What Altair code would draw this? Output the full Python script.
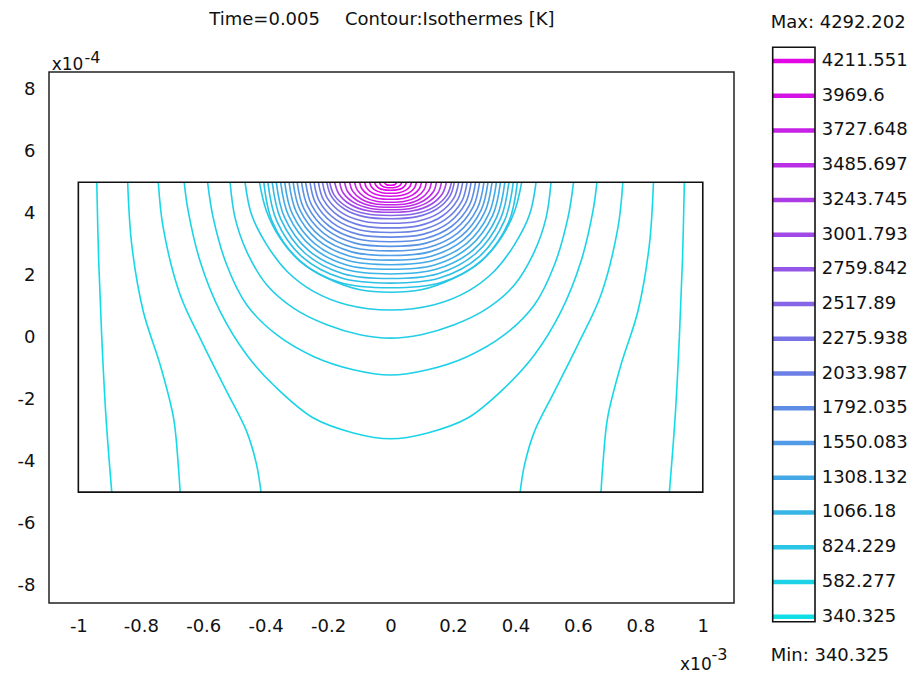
import altair as alt
import pandas as pd

# ---------------- data ----------------
# axis ticks (x in 1e-3 m, y in 1e-4 m)
x_ticks = [-1, -0.8, -0.6, -0.4, -0.2, 0, 0.2, 0.4, 0.6, 0.8, 1]
y_ticks = [-8, -6, -4, -2, 0, 2, 4, 6, 8]

# geometry rectangle (domain of the model)
geom_x = [-1.0, 1.0]
geom_y = [-5.0, 5.0]

# isotherms that run from the top edge to the bottom edge (left half; field is symmetric)
side_levels = [380, 430, 480]
side_halves = [
    [(-0.941, 5.0), (-0.935, 2.5), (-0.925, 0.0), (-0.912, -2.5), (-0.893, -5.0)],
    [(-0.842, 5.0), (-0.829, 2.99), (-0.792, 0.83), (-0.738, -0.89), (-0.695, -2.61),
     (-0.680, -4.12), (-0.674, -5.0)],
    [(-0.744, 5.0), (-0.728, 3.52), (-0.674, 1.37), (-0.600, -0.24), (-0.525, -1.75),
     (-0.461, -3.04), (-0.429, -4.12), (-0.415, -5.0)],
]

# closed (U-shaped) isotherms around the heat source: left half, from top edge to the axis x=0
u_levels = [530, 580, 630, 680, 730,
            800, 900, 1000, 1100, 1200, 1300, 1400, 1500, 1600, 1700, 1800, 1900,
            2000, 2100, 2200, 2300, 2500,
            3000, 3300, 3500, 3650, 3800, 3900, 4000, 4080, 4150, 4200, 4250]
u_halves = [
    [(-0.661, 5.0), (-0.648, 4.06), (-0.610, 2.45), (-0.546, 0.83), (-0.461, -0.57),
     (-0.365, -1.64), (-0.247, -2.61), (-0.119, -3.09), (0.0, -3.28)],
    [(-0.586, 5.0), (-0.568, 3.85), (-0.525, 2.34), (-0.461, 1.05), (-0.365, 0.08),
     (-0.247, -0.62), (-0.119, -1.05), (0.0, -1.22)],
    [(-0.514, 5.0), (-0.498, 3.85), (-0.461, 2.77), (-0.397, 1.69), (-0.311, 0.94),
     (-0.204, 0.40), (-0.098, 0.08), (0.0, -0.03)],
    [(-0.466, 5.0), (-0.445, 3.95), (-0.397, 2.99), (-0.332, 2.13), (-0.247, 1.48),
     (-0.140, 1.05), (0.0, 0.88)],
    [(-0.420, 5.0), (-0.397, 4.06), (-0.354, 3.20), (-0.290, 2.45), (-0.204, 1.91),
     (-0.098, 1.53), (0.0, 1.45)],
    # dense isotherms
    [(-0.406, 5.0), (-0.378, 3.707), (-0.292, 2.482), (-0.162, 1.767), (0.0, 1.597)],
    [(-0.393, 5.0), (-0.365, 3.763), (-0.283, 2.591), (-0.157, 1.908), (0.0, 1.745)],
    [(-0.379, 5.0), (-0.352, 3.820), (-0.273, 2.702), (-0.152, 2.049), (0.0, 1.894)],
    [(-0.366, 5.0), (-0.340, 3.876), (-0.264, 2.811), (-0.146, 2.190), (0.0, 2.042)],
    [(-0.352, 5.0), (-0.327, 3.933), (-0.253, 2.921), (-0.141, 2.331), (0.0, 2.191)],
    [(-0.339, 5.0), (-0.315, 3.989), (-0.244, 3.031), (-0.136, 2.472), (0.0, 2.339)],
    [(-0.325, 5.0), (-0.302, 4.045), (-0.234, 3.141), (-0.130, 2.614), (0.0, 2.488)],
    [(-0.312, 5.0), (-0.290, 4.102), (-0.225, 3.251), (-0.125, 2.754), (0.0, 2.636)],
    [(-0.299, 5.0), (-0.278, 4.158), (-0.215, 3.361), (-0.120, 2.896), (0.0, 2.785)],
    [(-0.285, 5.0), (-0.265, 4.215), (-0.205, 3.470), (-0.114, 3.036), (0.0, 2.933)],
    [(-0.272, 5.0), (-0.253, 4.271), (-0.196, 3.581), (-0.109, 3.178), (0.0, 3.082)],
    [(-0.258, 5.0), (-0.240, 4.328), (-0.186, 3.691), (-0.103, 3.319), (0.0, 3.231)],
    [(-0.245, 5.0), (-0.228, 4.384), (-0.176, 3.800), (-0.098, 3.460), (0.0, 3.379)],
    [(-0.231, 5.0), (-0.215, 4.441), (-0.166, 3.911), (-0.092, 3.602), (0.0, 3.528)],
    [(-0.218, 5.0), (-0.203, 4.497), (-0.157, 4.020), (-0.087, 3.742), (0.0, 3.676)],
    [(-0.204, 5.0), (-0.190, 4.553), (-0.147, 4.130), (-0.082, 3.884), (0.0, 3.825)],
    [(-0.195, 5.0), (-0.181, 4.593), (-0.140, 4.208), (-0.078, 3.983), (0.0, 3.930)],
    # hot core
    [(-0.179, 5.0), (-0.166, 4.632), (-0.129, 4.283), (-0.072, 4.079), (0.0, 4.031)],
    [(-0.163, 5.0), (-0.152, 4.663), (-0.117, 4.343), (-0.065, 4.156), (0.0, 4.112)],
    [(-0.147, 5.0), (-0.137, 4.693), (-0.106, 4.403), (-0.059, 4.233), (0.0, 4.193)],
    [(-0.131, 5.0), (-0.122, 4.724), (-0.094, 4.462), (-0.052, 4.309), (0.0, 4.273)],
    [(-0.115, 5.0), (-0.107, 4.755), (-0.083, 4.522), (-0.046, 4.386), (0.0, 4.354)],
    [(-0.099, 5.0), (-0.092, 4.791), (-0.071, 4.594), (-0.040, 4.478), (0.0, 4.451)],
    [(-0.083, 5.0), (-0.077, 4.828), (-0.060, 4.666), (-0.033, 4.571), (0.0, 4.548)],
    [(-0.067, 5.0), (-0.062, 4.865), (-0.048, 4.737), (-0.027, 4.663), (0.0, 4.645)],
    [(-0.051, 5.0), (-0.047, 4.902), (-0.037, 4.809), (-0.020, 4.755), (0.0, 4.742)],
    [(-0.035, 5.0), (-0.033, 4.932), (-0.025, 4.868), (-0.014, 4.831), (0.0, 4.822)],
    [(-0.019, 5.0), (-0.018, 4.963), (-0.014, 4.928), (-0.008, 4.908), (0.0, 4.903)],
]

# colour legend
legend_labels = ["4211.551", "3969.6", "3727.648", "3485.697", "3243.745", "3001.793",
                 "2759.842", "2517.89", "2275.938", "2033.987", "1792.035", "1550.083",
                 "1308.132", "1066.18", "824.229", "582.277", "340.325"]
t_max = 4292.202
t_min = 340.325

title_left = "Time=0.005"
title_right = "Contour:Isothermes [K]"

# ---------------- build tables ----------------
rows = []


def add_line(cid, level, pts):
    for i, (x, y) in enumerate(pts):
        rows.append({"cid": cid, "T": level, "x": x, "y": y, "i": i})


for k, (lev, half) in enumerate(zip(side_levels, side_halves)):
    add_line(f"s{k}L", lev, half)
    add_line(f"s{k}R", lev, [(-x, y) for x, y in half])
for k, (lev, half) in enumerate(zip(u_levels, u_halves)):
    full = half + [(-x, y) for x, y in reversed(half[:-1])]
    add_line(f"u{k:02d}", lev, full)

df_lines = pd.DataFrame(rows)
df_geom = pd.DataFrame({"x0": [geom_x[0]], "x1": [geom_x[1]], "y0": [geom_y[0]], "y1": [geom_y[1]]})
df_leg = pd.DataFrame({"v": [float(s) for s in legend_labels], "lab": legend_labels})

FONT = "DejaVu Sans"
TXT = "#111111"

xscale = alt.Scale(domain=[-1.094, 1.1], nice=False, zero=False)
yscale = alt.Scale(domain=[-8.58, 8.56], nice=False, zero=False)
cscale = alt.Scale(domain=[t_min, t_max], range=["#10dfe6", "#e600e6"], interpolate="rgb")

x_axis = alt.Axis(values=x_ticks, labelExpr="toString(datum.value)", ticks=False,
                  domain=False, grid=False, labelFont=FONT, labelFontSize=18,
                  labelPadding=14, labelColor=TXT, labelFlush=False, labelOverlap=False)
y_axis = alt.Axis(values=y_ticks, labelExpr="toString(datum.value)", ticks=False,
                  domain=False, grid=False, labelFont=FONT, labelFontSize=18,
                  labelPadding=14, labelColor=TXT, labelOverlap=False)

contours = alt.Chart(df_lines).mark_line(strokeWidth=1.6, interpolate="catmull-rom").encode(
    x=alt.X("x:Q", scale=xscale, title=None, axis=x_axis),
    y=alt.Y("y:Q", scale=yscale, title=None, axis=y_axis),
    detail="cid:N",
    order="i:Q",
    color=alt.Color("T:Q", scale=cscale, legend=None),
)

geom = alt.Chart(df_geom).mark_rect(fillOpacity=0, stroke="#111111", strokeWidth=1.6).encode(
    x=alt.X("x0:Q", scale=xscale, title=None, axis=x_axis), x2="x1:Q",
    y=alt.Y("y0:Q", scale=yscale, title=None, axis=y_axis), y2="y1:Q",
)


def label(text, x, y, size=18, align="left"):
    return alt.Chart(pd.DataFrame({"t": [text]})).mark_text(
        font=FONT, fontSize=size, color=TXT, align=align, baseline="alphabetic"
    ).encode(x=alt.value(x), y=alt.value(y), text="t:N")


texts = [
    label(title_left, 160.3, -47),
    label(title_right, 296, -47),
    label("x10", 2.7, -2, 17),
    label("-4", 35.5, -9.5, 16),
    label("x10", 631, 598, 17),
    label("-3", 662.5, 588, 16),
    label(f"Max: {t_max}", 721.7, -43.7),
    label(f"Min: {t_min}", 721.7, 589),
]

main = alt.layer(contours, geom, *texts)

lscale = alt.Scale(domain=[305, 4307], range=[549.7, -24.7], nice=False, zero=False)

leg_box = alt.Chart(pd.DataFrame({"a": [0]})).mark_rect(
    fillOpacity=0, stroke="#111111", strokeWidth=1.6
).encode(x=alt.value(723.7), x2=alt.value(766), y=alt.value(-24.7), y2=alt.value(549.7))

leg_rules = alt.Chart(df_leg).mark_rule(strokeWidth=4.5).encode(
    x=alt.value(723.7), x2=alt.value(766),
    y=alt.Y("v:Q", scale=lscale, axis=None),
    color=alt.Color("v:Q", scale=cscale, legend=None),
)
leg_text = alt.Chart(df_leg).mark_text(
    font=FONT, fontSize=18, color=TXT, align="left", baseline="middle"
).encode(
    x=alt.value(772.7),
    y=alt.Y("v:Q", scale=lscale, axis=None),
    text="lab:N",
)

legend = alt.layer(leg_rules, leg_box, leg_text)

chart = alt.layer(main, legend).resolve_scale(y="independent").properties(
    width=685, height=531,
    autosize=alt.AutoSizeParams(type="none"),
    padding={"left": 49, "top": 72, "right": 190, "bottom": 74},
    background="white",
).configure_view(stroke="#222222", strokeWidth=1.5)

chart.save("out.html", embed_options={"renderer": "svg", "actions": False})
